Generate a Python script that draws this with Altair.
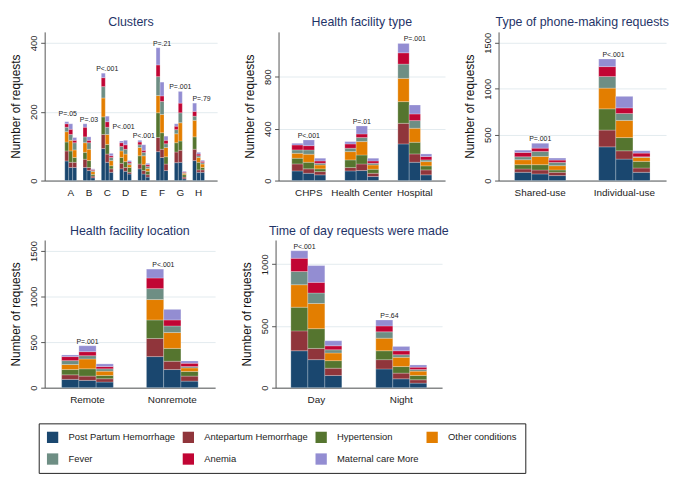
import altair as alt
import pandas as pd

FONT = "Liberation Sans, Arial, sans-serif"

causes = ["Post Partum Hemorrhage", "Antepartum Hemorrhage", "Hypertension",
          "Other conditions", "Fever", "Anemia", "Maternal care More"]
colors = ["#1a476f", "#90353b", "#55752f", "#e37e00", "#6e8e84", "#c10534", "#938dd2"]

# each row: one bar (3 bars per group), values in the order of `causes`
cluster_groups = ["A", "B", "C", "D", "E", "F", "G", "H"]
cluster_values = [
    [57, 29, 26, 30, 13, 10, 6], [38, 15, 33, 31, 17, 15, 16], [38, 15, 14, 22, 21, 7, 8],
    [38, 24, 20, 28, 17, 28, 10], [29, 9, 20, 33, 19, 7, 10], [8, 5, 5, 8, 3, 3, 2],
    [93, 41, 51, 55, 33, 26, 13], [53, 24, 28, 29, 21, 16, 16], [24, 10, 9, 15, 9, 5, 7],
    [34, 16, 17, 19, 13, 11, 5], [27, 11, 17, 22, 14, 13, 13], [19, 5, 14, 8, 4, 4, 4],
    [34, 14, 24, 24, 8, 8, 5], [19, 10, 17, 26, 10, 6, 16], [10, 7, 10, 8, 6, 5, 4],
    [84, 41, 72, 50, 55, 34, 50], [67, 24, 48, 53, 38, 16, 40], [29, 19, 21, 27, 11, 10, 12],
    [52, 31, 27, 26, 12, 10, 7], [53, 35, 27, 53, 29, 28, 34], [5, 5, 7, 4, 2, 2, 2],
    [58, 33, 36, 48, 12, 14, 24], [24, 7, 22, 14, 5, 5, 5], [24, 7, 7, 10, 4, 4, 3],
]
cluster_p = ["P=.05", "P=.03", "P<.001", "P<.001", "P<.001", "P=.21", "P=.001", "P=.79"]

facility_groups = ["CHPS", "Health Center", "Hospital"]
facility_values = [
    [74, 54, 44, 38, 26, 38, 13], [56, 34, 51, 62, 33, 33, 44], [44, 25, 21, 30, 13, 18, 21],
    [74, 26, 59, 64, 26, 33, 18], [77, 51, 69, 103, 31, 28, 61], [31, 25, 31, 33, 13, 18, 21],
    [282, 159, 167, 179, 110, 87, 72], [141, 64, 90, 108, 59, 51, 69], [44, 38, 31, 33, 13, 26, 20],
]
facility_p = ["P<.001", "P=.01", "P=.001"]

phone_groups = ["Shared-use", "Individual-use"]
phone_values = [
    [90, 36, 47, 54, 32, 47, 25], [72, 43, 58, 90, 54, 36, 53], [54, 36, 25, 47, 36, 25, 22],
    [367, 183, 231, 226, 126, 108, 83], [234, 90, 144, 187, 75, 61, 126], [90, 47, 72, 43, 7, 40, 25],
]
phone_p = ["P=.001", "P<.001"]

location_groups = ["Remote", "Nonremote"]
location_values = [
    [91, 50, 58, 55, 43, 44, 18], [80, 47, 80, 108, 36, 44, 65], [62, 36, 36, 47, 26, 25, 29],
    [341, 199, 203, 224, 120, 116, 98], [199, 91, 141, 174, 72, 66, 116], [72, 55, 51, 39, 15, 36, 25],
]
location_p = ["P=.001", "P<.001"]

time_groups = ["Day", "Night"]
time_values = [
    [299, 161, 192, 182, 107, 107, 61], [227, 91, 160, 204, 85, 86, 136], [99, 59, 61, 62, 26, 32, 41],
    [152, 75, 72, 102, 51, 48, 48], [72, 46, 53, 75, 21, 32, 35], [37, 27, 35, 35, 13, 19, 18],
]
time_p = ["P<.001", "P=.64"]


def make_df(groups, values):
    rows = []
    for gi, g in enumerate(groups):
        for pi in range(3):
            vals = values[gi * 3 + pi]
            for ci, c in enumerate(causes):
                rows.append(dict(group=g, period=pi + 1, cause=c, order=ci, value=vals[ci]))
    return pd.DataFrame(rows)


def make_labels(groups, values, plabels):
    rows = []
    for gi, g in enumerate(groups):
        totals = [sum(values[gi * 3 + pi]) for pi in range(3)]
        rows.append(dict(group=g, total=max(totals), label=plabels[gi]))
    return pd.DataFrame(rows)


legend = alt.Legend(title=None, orient="none", legendX=-6, legendY=395, columns=4,
                    direction="horizontal")


def panel(title, groups, values, plabels, ymax, yticks, width, height, pin, pout,
          align=0.5, shifts=None):
    shifts = shifts or {}
    df = make_df(groups, values)
    lab = make_labels(groups, values, plabels)
    xscale = alt.Scale(paddingInner=pin, paddingOuter=pout, align=align)
    x = alt.X("group:N", sort=groups, scale=xscale,
              axis=alt.Axis(title=None, labelAngle=0, ticks=False, labelPadding=7,
                            labelFontSize=10, grid=False, labelOverlap=False))
    bars = alt.Chart(df).mark_bar(stroke="white", strokeWidth=0.4, strokeOpacity=0.6).encode(
        x=x,
        xOffset=alt.XOffset("period:O", scale=alt.Scale(paddingInner=0, paddingOuter=0)),
        y=alt.Y("value:Q", stack="zero",
                scale=alt.Scale(domain=[0, ymax], nice=False),
                axis=alt.Axis(title="Number of requests", values=yticks, format="d")),
        color=alt.Color("cause:N", scale=alt.Scale(domain=causes, range=colors), legend=legend),
        order=alt.Order("order:Q"),
    )
    layers = [bars]
    enc = dict(x=alt.X("group:N", sort=groups), y=alt.Y("total:Q"), text="label:N")
    plain = lab[~lab["group"].isin(list(shifts))]
    if len(plain):
        layers.append(alt.Chart(plain).mark_text(baseline="bottom", dy=-1, fontSize=7,
                                                 font=FONT, color="#222").encode(**enc))
    for g, (sx, sy) in shifts.items():
        sub = lab[lab["group"] == g]
        layers.append(alt.Chart(sub).mark_text(baseline="bottom", dx=sx, dy=-1 - sy, fontSize=7,
                                               font=FONT, color="#222").encode(**enc))
    return alt.layer(*layers).properties(
        width=width, height=height,
        title=alt.Title(title, fontSize=12.5, font=FONT, fontWeight="normal", color="#1f3468",
                        offset=3, anchor="middle"))


p1 = panel("Clusters", cluster_groups, cluster_values, cluster_p, 432,
           [0, 100, 200, 300, 400], 174, 150, 0.35, 0.895, align=0.615,
           shifts={"A": (-3, 4), "D": (-2, 9), "H": (3, 0)})
p2 = panel("Health facility type", facility_groups, facility_values, facility_p, 1145,
           [0, 200, 400, 600, 800, 1000], 168, 150, 0.36, 0.25)
p3 = panel("Type of phone-making requests", phone_groups, phone_values, phone_p, 1619,
           [0, 500, 1000, 1500], 169, 150, 0.39, 0.19,
           shifts={"Individual-use": (-11, 0)})
p4 = panel("Health facility location", location_groups, location_values, location_p, 1620,
           [0, 500, 1000, 1500], 172, 149, 0.39, 0.2,
           shifts={"Nonremote": (-9, 0)})
p5 = panel("Time of day requests were made", time_groups, time_values, time_p, 1196,
           [0, 500, 1000], 168, 149, 0.4, 0.18,
           shifts={"Day": (-12, 0), "Night": (-12, 0)})

row1 = alt.hconcat(p1, alt.hconcat(p2, p3, spacing=19).resolve_scale(xOffset="independent"),
                   spacing=27).resolve_scale(xOffset="independent")
row2 = alt.hconcat(p4, p5, spacing=26).resolve_scale(xOffset="independent")

chart = alt.vconcat(row1, row2, spacing=27).resolve_scale(xOffset="independent").properties(
    padding={"left": 2, "top": 6, "right": 0, "bottom": 0},
    background="white",
).configure_view(stroke=None).configure_axis(
    labelFont=FONT, titleFont=FONT, labelColor="#222", titleColor="#111",
    domainColor="#555", tickColor="#555", gridColor="#e3ebef",
).configure_axisY(
    labelAngle=270, labelAlign="center", labelBaseline="bottom", labelFontSize=9.5,
    labelPadding=2, tickSize=4, titleFontSize=12, titleFontWeight="normal", titlePadding=6,
).configure_legend(
    symbolType="square", symbolSize=130, symbolStrokeWidth=0, symbolOpacity=1,
    labelFont=FONT, labelFontSize=9.5, labelColor="#222", labelOffset=10,
    rowPadding=10, columnPadding=7, padding=8, strokeColor="#222", fillColor="white",
)

chart.save("out.html", embed_options={"renderer": "svg", "actions": False})
